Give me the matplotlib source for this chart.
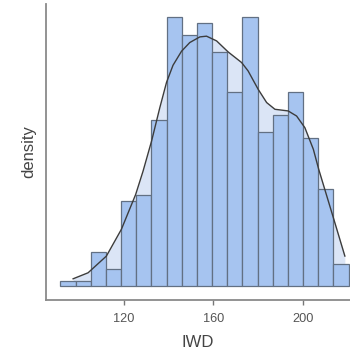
import numpy as np
import matplotlib.pyplot as plt

plt.rcParams['font.family'] = ['Liberation Sans', 'DejaVu Sans']

# histogram of IWD (19 bins), counts
iwd_min, iwd_max = 91.5, 220.5
counts = [1, 1, 6, 3, 15, 16, 29, 47, 44, 46, 41, 34, 47, 27, 30, 34, 26, 17, 4]

# density curve, points
kde_x = [97.2, 103.9, 112.1, 118.8, 125.2, 128.5, 132.3, 136.0, 139.0, 141.9,
         145.7, 149.4, 153.9, 156.9, 161.4, 166.6, 172.6, 175.5, 180.0, 183.8,
         187.5, 193.4, 197.2, 200.9, 204.7, 207.1, 213.6, 218.8]
kde_y = [0.00042, 0.00075, 0.00167, 0.00314, 0.00506, 0.00634, 0.00799,
         0.00983, 0.01122, 0.01216, 0.01293, 0.01341, 0.01372, 0.01376,
         0.01350, 0.01289, 0.01231, 0.01185, 0.01084, 0.01011, 0.00974,
         0.00965, 0.00937, 0.00873, 0.00754, 0.00644, 0.00380, 0.00167]

xticks = [120, 160, 200]

counts = np.array(counts)
edges = np.linspace(iwd_min, iwd_max, len(counts) + 1)
width = edges[1] - edges[0]
density = counts / (counts.sum() * width)

fig = plt.figure(figsize=(3.5, 3.6), dpi=100)
ax = fig.add_axes([0.131, 0.167, 0.869, 0.822])

ax.fill_between(kde_x, kde_y, 0, color='#dbe5f6', lw=0, zorder=1)
ax.bar(edges[:-1], density, width=width, align='edge', color='#a6c4f0',
       edgecolor='#627083', linewidth=0.9, zorder=2)
ax.plot(kde_x, kde_y, color='#3c3c3c', lw=1.0, zorder=3)

# ggplot-like 5% expansion
top = density.max()
ax.set_ylim(-0.05 * top, 1.05 * top)
ax.set_xlim(85.0, 221.1)

ax.set_xticks(xticks)
ax.set_yticks([])
ax.tick_params(axis='x', length=3.5, width=1, color='#777777',
               labelsize=9.2, labelcolor='#555555', pad=6)

for side in ['top', 'right']:
    ax.spines[side].set_visible(False)
for side in ['left', 'bottom']:
    ax.spines[side].set_color('#8a8a8a')
    ax.spines[side].set_linewidth(1.3)

ax.set_xlabel('IWD', fontsize=12, color='#444444', labelpad=7.5)
ax.set_ylabel('density', fontsize=12, color='#444444', labelpad=7)

fig.savefig('out.png', dpi=100)
